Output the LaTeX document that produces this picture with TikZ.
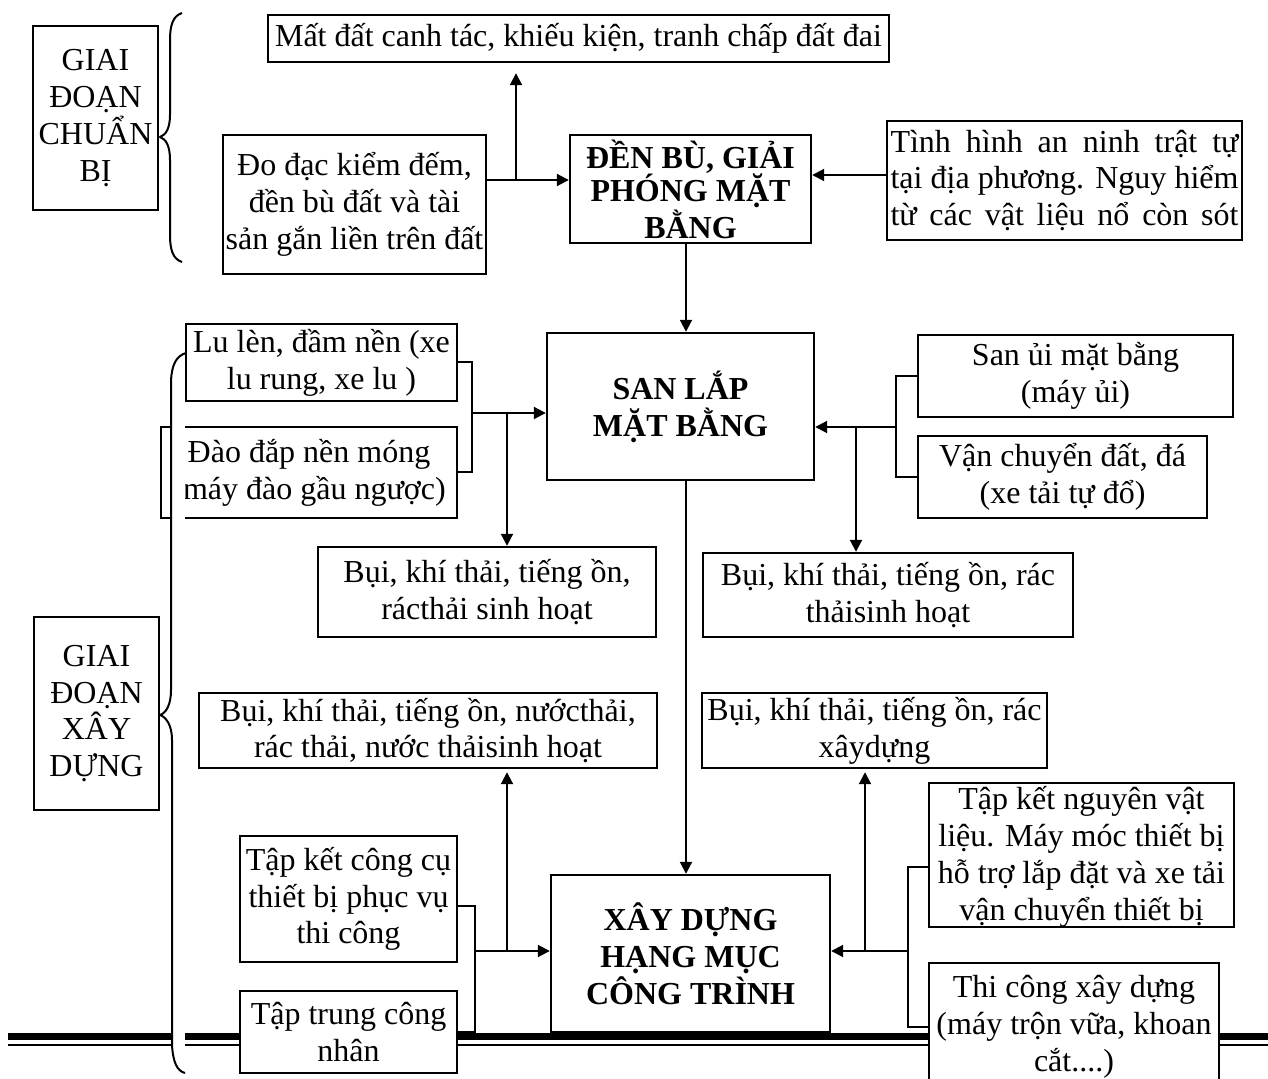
\documentclass[tikz,border=0pt]{standalone}
\usepackage{fontspec}
\setmainfont{Liberation Serif}
\usetikzlibrary{arrows.meta}
\begin{document}
\begin{tikzpicture}[x=0.5pt,y=-0.5pt,
 bx/.style={draw, fill=white, line width=1.2pt, inner sep=0pt, align=center, font=\fontsize{16}{18.4}\selectfont},
 bb/.style={bx, font=\fontsize{16}{18.4}\selectfont\bfseries},
 txt/.style={inner sep=0pt, align=center, font=\fontsize{16}{18.4}\selectfont},
 ln/.style={line width=1pt},
 arr/.style={line width=1pt, -{Triangle[length=6pt,width=6pt]}},
 brace/.style={line width=1pt, line join=round}]
\useasboundingbox (0,0) rectangle (1268,1079);

% bottom double rule
\coordinate (r1) at (8,1036.5);
\coordinate (r2) at (1280,1036.5);
\draw[line width=3.5pt] (r1) -- (r2);
\coordinate (r3) at (8,1045);
\coordinate (r4) at (1280,1045);
\draw[line width=0.6pt] (r3) -- (r4);

% boxes
\node[bx, minimum width=310.5pt, minimum height=23.5pt] (mat) at (578.5,38.5) {Mất đất canh tác, khiếu kiện, tranh chấp đất đai};
\node[bx, minimum width=62.5pt, minimum height=92pt] (gd1) at (95.5,118) {GIAI\\ĐOẠN\\CHUẨN\\BỊ};
\node[bx, minimum width=131.5pt, minimum height=69.5pt] (dodac) at (354.5,204.5) {Đo đạc kiểm đếm,\\đền bù đất và tài\\sản gắn liền trên đất};
\node[bb, font=\fontsize{16}{16.6}\selectfont\bfseries, minimum width=120.5pt, minimum height=54pt] (denbu) at (690.5,189) {ĐỀN BÙ, GIẢI\\PHÓNG MẶT\\BẰNG};
\node[bx, minimum width=177.5pt, minimum height=59.5pt] (tinh) at (1064.5,180.5) {\makebox[174pt][s]{Tình hình an ninh trật tự}\\\makebox[174pt][s]{tại địa phương. Nguy hiểm}\\\makebox[174pt][s]{từ các vật liệu nổ còn sót}};
\node[bb, minimum width=133.5pt, minimum height=73.5pt] (sanlap) at (680.5,406.5) {SAN LẮP\\MẶT BẰNG};
\node[bx, minimum width=135.5pt, minimum height=38.5pt] (lu) at (321.5,362.5) {Lu lèn, đầm nền (xe\\lu rung, xe lu )};
\node[bx, minimum width=148pt, minimum height=45.5pt] (dao) at (309,472.5) {Đào đắp nền móng\\\hphantom{(}máy đào gầu ngược)};
\node[bx, minimum width=169pt, minimum height=45pt] (bui1) at (487,592) {Bụi, khí thải, tiếng ồn,\\rácthải sinh hoạt};
\node[bx, minimum width=157.5pt, minimum height=41pt] (sanui) at (1075.5,376) {San ủi mặt bằng\\(máy ủi)};
\node[bx, minimum width=144.5pt, minimum height=41pt] (vanch) at (1062.5,477) {Vận chuyển đất, đá\\(xe tải tự đổ)};
\node[bx, minimum width=185pt, minimum height=42pt] (bui2) at (888,595) {Bụi, khí thải, tiếng ồn, rác\\thảisinh hoạt};
\node[bx, minimum width=62.5pt, minimum height=96.5pt] (gd2) at (96.5,713.5) {GIAI\\ĐOẠN\\XÂY\\DỰNG};
\node[bx, minimum width=229pt, minimum height=37.5pt] (bui3) at (428,730.5) {Bụi, khí thải, tiếng ồn, nướcthải,\\rác thải, nước thảisinh hoạt};
\node[bx, minimum width=172.5pt, minimum height=37.5pt] (bui4) at (874.5,730.5) {Bụi, khí thải, tiếng ồn, rác\\xâydựng};
\node[bx, minimum width=108.5pt, minimum height=63pt] (tapket1) at (348.5,899) {Tập kết công cụ\\thiết bị phục vụ\\thi công};
\node[bx, minimum width=108.5pt, minimum height=41pt] (taptrung) at (348.5,1032) {Tập trung công\\nhân};
\node[bb, minimum width=139.5pt, minimum height=78.5pt] (xaydung) at (690.5,953.5) {XÂY DỰNG\\HẠNG MỤC\\CÔNG TRÌNH};
\node[bx, minimum width=152.5pt, minimum height=72pt] (tapket2) at (1081.5,855) {};
\begin{scope}
\clip (tapket2.south west) rectangle (tapket2.north east);
\node[txt] (tapket2t) at (1081.5,857) {Tập kết nguyên vật\\liệu. Máy móc thiết bị\\hỗ trợ lắp đặt và xe tải\\vận chuyển thiết bị};
\end{scope}
\node[bx, minimum width=145pt, minimum height=63.5pt] (thicong) at (1074,1026.5) {Thi công xây dựng\\(máy trộn vữa, khoan\\cắt....)};

% white band behind the lower brace
\coordinate (w1) at (171,345);
\coordinate (w2) at (185,1079);
\fill[white] (w1) rectangle (w2);

% braces
\coordinate (b1a) at (182,13);
\draw[brace] (b1a) .. controls (173,16) and (170,25) .. (170,40) -- (170,115)
  .. controls (170,128) and (166,135) .. (160,137)
  .. controls (166,139) and (170,146) .. (170,160) -- (170,235)
  .. controls (170,250) and (173,259) .. (182,262);
\coordinate (b2a) at (186,353);
\draw[brace] (b2a) .. controls (176,356) and (172,365) .. (171,380) -- (171,690)
  .. controls (171,705) and (166,713) .. (160,715)
  .. controls (166,717) and (172,725) .. (172,740) -- (172,1045)
  .. controls (173,1062) and (177,1071) .. (185,1073);

% helper coordinates
\coordinate (a1) at (0,180);
\coordinate (a2) at (516,180);
\coordinate (c1) at (0,175);
\coordinate (vx) at (686,0);
\coordinate (k1) at (472,413);
\coordinate (k2) at (507,413);
\coordinate (k3) at (896,427);
\coordinate (k4) at (856,427);
\coordinate (y906) at (0,906);
\coordinate (k5) at (475,951);
\coordinate (k6) at (507,951);
\coordinate (y867) at (0,867);
\coordinate (k7) at (908,951);
\coordinate (k8) at (865,951);

% connectors (top)
\draw[arr] (dodac.east |- a1) -- (denbu.west |- a1);
\draw[arr, shorten >=5pt] (a2) -- (mat.south -| a2);
\draw[arr] (tinh.west |- c1) -- (denbu.east |- c1);
\draw[arr] (denbu.south -| vx) -- (sanlap.north -| vx);
\draw[arr] (sanlap.south -| vx) -- (xaydung.north -| vx);

% san lap brackets
\draw[ln] (lu.east) -| (k1) |- (dao.east);
\draw[arr] (k1) -- (sanlap.west |- k1);
\draw[arr] (k2) -- (bui1.north -| k2);
\draw[ln] (sanui.west) -| (k3) |- (vanch.west);
\draw[arr] (k3) -- (sanlap.east |- k3);
\draw[arr] (k4) -- (bui2.north -| k4);

% xay dung brackets
\draw[ln] (tapket1.east |- y906) -| (k5) |- (taptrung.east);
\draw[arr] (k5) -- (xaydung.west |- k5);
\draw[arr, shorten >=1.5pt] (k6) -- (bui3.south -| k6);
\draw[ln] (tapket2.west |- y867) -| (k7) |- (thicong.west);
\draw[arr] (k7) -- (xaydung.east |- k7);
\draw[arr, shorten >=1.5pt] (k8) -- (bui4.south -| k8);
\end{tikzpicture}
\end{document}
